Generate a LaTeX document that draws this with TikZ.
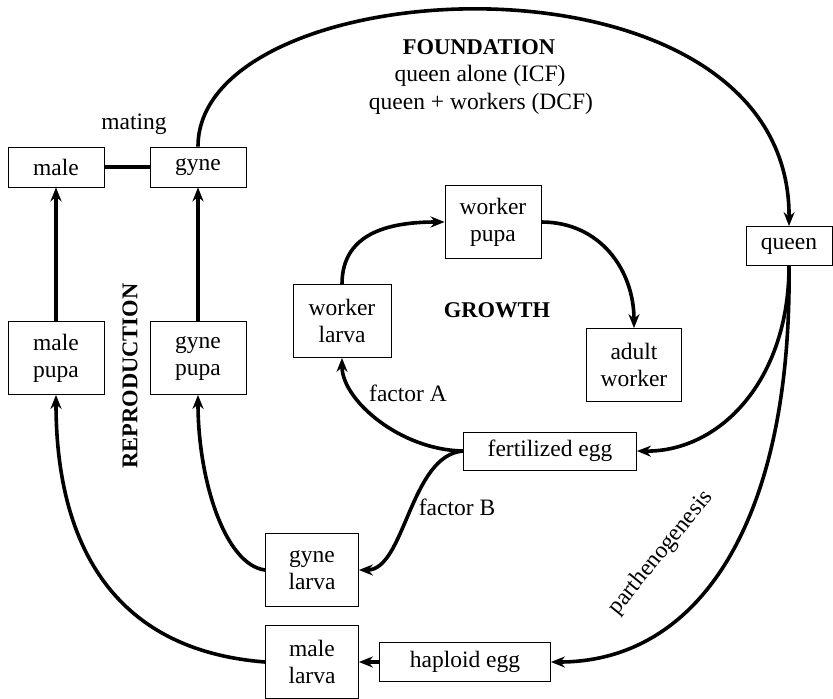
\documentclass[tikz,border=0pt]{standalone}
\usepackage{fontspec}
\setmainfont{Liberation Serif}
\usetikzlibrary{arrows.meta}
\begin{document}
\begin{tikzpicture}[x=1pt,y=-1pt,
  font=\fontsize{23.5}{27}\selectfont,
  box/.style={draw, line width=0.8pt, minimum width=96pt, minimum height=40pt, inner sep=0pt, align=center},
  tall/.style={box, minimum height=73pt},
  conn/.style={line width=3.6pt, -{Stealth[length=14pt,width=11pt]}},
  plain/.style={line width=4.4pt},
  lbl/.style={inner sep=0pt, align=center},
  bold/.style={lbl, font=\fontsize{22.5}{27}\selectfont\bfseries}]
\useasboundingbox (0,0) rectangle (833,699);
% nodes
\node[box] (male) at (56,167) {male};
\node[box] (gyne) at (198,167) {gyne};
\node[tall] (mpupa) at (56,358) {male\\pupa};
\node[tall] (gpupa) at (198,358) {gyne\\pupa};
\node[tall, minimum width=98pt] (wlarva) at (342,321) {worker\\larva};
\node[tall] (wpupa) at (493,222) {worker\\pupa};
\node[tall, minimum width=95pt] (adult) at (634,365) {adult\\worker};
\node[box, minimum width=86pt, minimum height=39pt] (queen) at (789,246) {queen};
\node[box, minimum width=173pt, minimum height=38pt] (fert) at (550,451) {fertilized egg};
\node[tall, minimum width=93pt] (glarva) at (312,570) {gyne\\larva};
\node[tall, minimum width=93pt] (mlarva) at (312,662) {male\\larva};
\node[box, minimum width=171pt, minimum height=39pt] (hap) at (465,662) {haploid egg};
% labels
\node[lbl] (mating) at (134,124) {mating};
\node[bold] (found) at (479,47) {FOUNDATION};
\node[lbl] (icf) at (480,76) {queen alone (ICF)};
\node[lbl] (dcf) at (481,104) {queen + workers (DCF)};
\node[bold] (growth) at (497,310) {GROWTH};
\node[bold, rotate=90] (repro) at (130,376) {REPRODUCTION};
\node[lbl] (fa) at (408,393) {factor A};
\node[lbl] (fb) at (457,507) {factor B};
\node[lbl, rotate=51] (parth) at (661,553) {parthenogenesis};
% connectors
\draw[plain] (male.east) -- (gyne.west);
\draw[conn] (gyne.north) .. controls (198,-33) and (791,-64) .. (queen.north);
\draw[conn] (mpupa.north) -- (male.south);
\draw[conn] (gpupa.north) -- (gyne.south);
\draw[conn] (mlarva.west) .. controls (110,650) and (56,540) .. (mpupa.south);
\draw[conn] (glarva.west) .. controls (225,565) and (198,480) .. (gpupa.south);
\draw[conn] (fert.west) .. controls (400,450) and (342,400) .. (wlarva.south);
\draw[conn] (fert.west) .. controls (410,455) and (405,570) .. (glarva.east);
\draw[conn] (wlarva.north) .. controls (342,230) and (395,222) .. (wpupa.west);
\draw[conn] (wpupa.east) .. controls (600,222) and (634,270) .. (adult.north);
\draw[conn] (queen.south) .. controls (789,380) and (720,452) .. (fert.east);
\draw[conn] (queen.south) .. controls (792,520) and (700,662) .. (hap.east);
\draw[conn] (hap.west) -- (mlarva.east);
\end{tikzpicture}
\end{document}
